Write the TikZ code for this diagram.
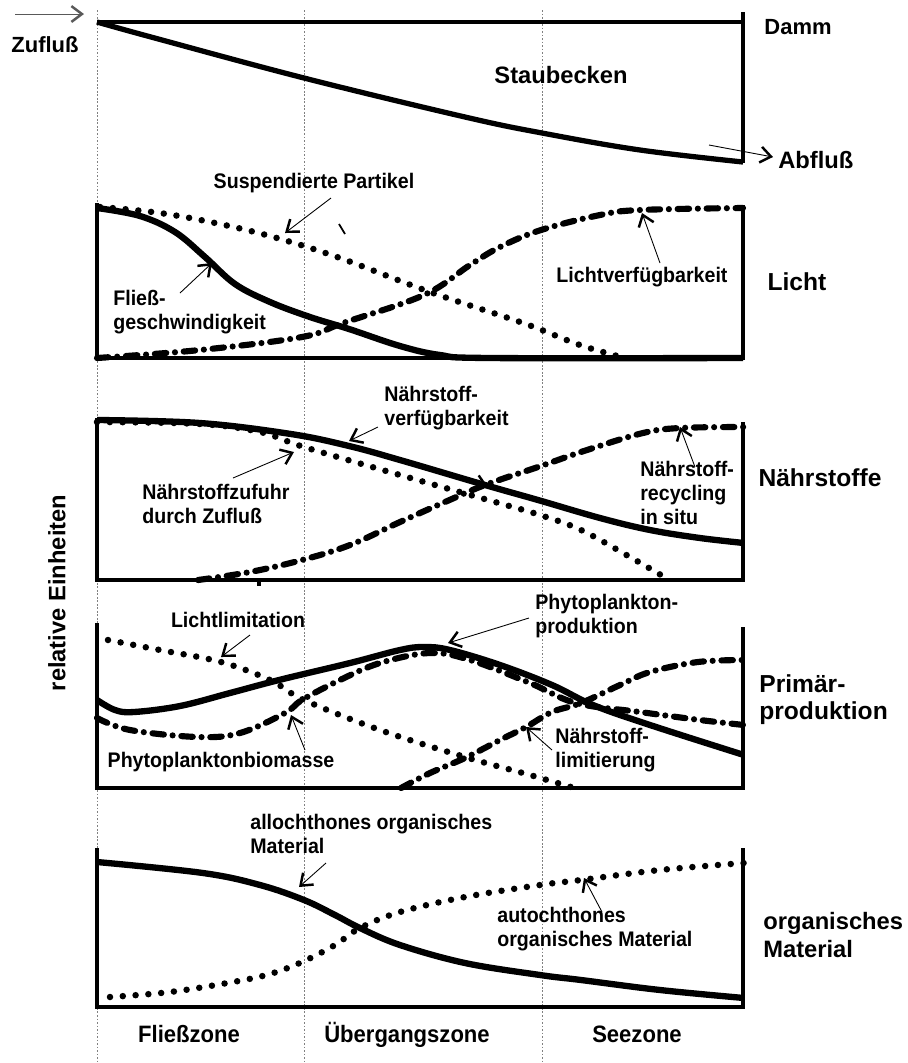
\documentclass[tikz,border=0pt]{standalone}
\usepackage{fontspec}
\setmainfont{Liberation Sans}
\newfontfamily\narrowsans[FakeStretch=0.93]{Liberation Sans}
\usetikzlibrary{arrows.meta}
\tikzset{
  lbl/.style={font=\narrowsans\bfseries\fontsize{12}{13.5}\selectfont, align=left, inner sep=0pt},
  big/.style={font=\bfseries\fontsize{14}{15.5}\selectfont, align=left, inner sep=0pt},
  zonelbl/.style={font=\narrowsans\bfseries\fontsize{13.5}{15}\selectfont, inner sep=0pt, anchor=base},
  axis/.style={line width=1.8pt},
  solidc/.style={line width=3.6pt},
  dotc/.style={line width=3.7pt, line cap=round, dash pattern=on 0pt off 7.3pt},
  dashdotc/.style={line width=3.5pt, line cap=round, dash pattern=on 6.5pt off 5pt on 0pt off 5pt},
  zone/.style={line width=0.4pt, gray, dash pattern=on 1pt off 1pt},
  ptr/.style={line width=0.5pt, -{Straight Barb[length=6pt,width=9pt,line width=1.4pt]}}
}
\begin{document}
\begin{tikzpicture}[x=0.02cm, y=-0.02cm]
        \useasboundingbox (0,0) rectangle (908,1063);
        % zones
        \path[draw,zone] (97,10) -- (97,1063);
        \path[draw,zone] (304,10) -- (304,1063);
        \path[draw,zone] (542,10) -- (542,1063);

        % Staubecken
        \path[draw,line width=2.6pt] (97,22) -- (743,22);
        \path[draw,line width=2.4pt] (743,12) -- (743,163);
        \path[draw,solidc,line width=3pt] plot[smooth,tension=0.6] coordinates {(97,22) (151,37) (304,78) (465,117) (542,133) (640,150) (743,162)};
        \node[lbl,font=\bfseries\fontsize{12.5}{14}\selectfont] (zu) at (45,45) {Zufluß};
        \node[lbl,font=\bfseries\fontsize{12.5}{14}\selectfont] (damm) at (798,27) {Damm};
        \node[lbl,font=\bfseries\fontsize{13.5}{15}\selectfont] (becken) at (561,75) {Staubecken};
        \node[lbl,font=\bfseries\fontsize{13.5}{15}\selectfont,anchor=west] (ab) at (778,160) {Abfluß};
        \coordinate (zu1) at (15,14);
        \coordinate (zu2) at (84,14);
        \coordinate (ab1) at (709,145);
        \coordinate (ab2) at (773,157);
        \path[draw,ptr,gray!70!black] (zu1) -- (zu2);
        \path[draw,ptr] (ab1) -- (ab2);

        % Licht
        \path[draw,axis] (97,203) -- (97,358) -- (743,358) -- (743,205);
        \path[draw,solidc] plot[smooth,tension=0.6] coordinates {(97,208) (140,216) (175,232) (205,257) (235,284) (270,302) (310,317) (349,329) (400,346) (440,355) (490,358) (743,358)};
        \path[draw,dotc] plot[smooth,tension=0.6] coordinates {(100,207) (160,213) (220,224) (277,238) (340,258) (430,292) (523,323) (580,345) (625,358)};
        \path[draw,dashdotc] plot[smooth,tension=0.6] coordinates {(97,358) (200,350) (302,337) (343,323) (424,295) (470,265) (500,247) (541,230) (600,215) (640,210) (743,208)};
        \path[draw,line width=1pt] (339,224) -- (345,234);
        \node[lbl] (susp) at (314,183) {Suspendierte Partikel};
        \node[lbl,anchor=west] (fliess) at (113,312) {Fließ-\\geschwindigkeit};
        \node[lbl] (lv) at (642,277) {Lichtverfügbarkeit};
        \node[big] (licht) at (797,282) {Licht};
        \coordinate (s1) at (331,198);
        \coordinate (s2) at (285,233);
        \coordinate (f1) at (180,293);
        \coordinate (f2) at (212,263);
        \coordinate (l1) at (660,263);
        \coordinate (l2) at (642,213);
        \path[draw,ptr] (s1) -- (s2);
        \path[draw,ptr] (f1) -- (f2);
        \path[draw,ptr] (l1) -- (l2);

        % Naehrstoffe
        \path[draw,axis] (97,418) -- (97,580) -- (743,580) -- (743,422);
        \path[draw,axis] (259,580) -- (259,586);
        \path[draw,solidc] plot[smooth,tension=0.6] coordinates {(97,420) (200,423) (291,434) (349,446) (400,460) (485,485) (538,500) (600,518) (650,530) (700,538) (744,543)};
        \path[draw,dotc] plot[smooth,tension=0.6] coordinates {(97,422) (200,424) (260,432) (304,447) (400,475) (488,500) (540,515) (581,530) (630,557) (666,578)};
        \path[draw,dashdotc] plot[smooth,tension=0.6] coordinates {(198,580) (250,572) (302,560) (350,545) (400,522) (445,502) (485,485) (538,467) (587,450) (643,433) (680,428) (744,427)};
        \node[lbl,anchor=west] (nv) at (384,408) {Nährstoff-\\verfügbarkeit};
        \node[lbl,anchor=west] (nz) at (142,504) {Nährstoffzufuhr\\durch Zufluß};
        \node[lbl,anchor=west] (nr) at (640,493) {Nährstoff-\\recycling\\in situ};
        \node[big] (naehr) at (820,478) {Nährstoffe};
        \node[big,rotate=90,font=\bfseries\fontsize{13.5}{15}\selectfont] (rel) at (57,593) {relative Einheiten};
        \coordinate (nv1) at (378,427);
        \coordinate (nv2) at (349,441);
        \coordinate (nz1) at (233,478);
        \coordinate (nz2) at (294,452);
        \coordinate (nr1) at (695,467);
        \coordinate (nr2) at (680,427);
        \coordinate (x1) at (462,478);
        \coordinate (x2) at (488,487);
        \path[draw,ptr] (nv1) -- (nv2);
        \path[draw,ptr] (nz1) -- (nz2);
        \path[draw,ptr] (nr1) -- (nr2);
        \path[draw,ptr] (x1) -- (x2);

        % Primaerproduktion
        \path[draw,axis] (97,623) -- (97,788) -- (743,788) -- (743,627);
        \path[draw,dotc] plot[smooth,tension=0.6] coordinates {(108,640) (160,650) (221,662) (270,680) (304,700) (380,730) (465,757) (530,775) (581,790)};
        \path[draw,solidc] plot[smooth,tension=0.6] coordinates {(97,700) (115,710) (134,712) (180,706) (230,693) (279,680) (350,663) (400,650) (424,647) (450,650) (500,665) (552,685) (593,705) (650,725) (744,755)};
        \path[draw,dashdotc] plot[smooth,tension=0.6] coordinates {(97,718) (130,730) (198,737) (240,733) (285,713) (302,700) (340,680) (380,663) (430,653) (470,660) (530,683) (576,703) (640,712) (700,720) (744,725)};
        \path[draw,dashdotc] plot[smooth,tension=0.6] coordinates {(401,788) (430,773) (465,758) (500,740) (526,727) (552,712) (581,703) (620,685) (650,672) (698,662) (744,660)};
        \node[lbl] (ll) at (238,620) {Lichtlimitation};
        \node[lbl,anchor=west] (pp) at (535,616) {Phytoplankton-\\produktion};
        \node[lbl] (pb) at (221,762) {Phytoplanktonbiomasse};
        \node[lbl,anchor=west] (nl) at (555,750) {Nährstoff-\\limitierung};
        \node[big,anchor=west] (prim) at (759,700) {Primär-\\produktion};
        \coordinate (ll1) at (250,635);
        \coordinate (ll2) at (221,657);
        \coordinate (pp1) at (529,618);
        \coordinate (pp2) at (448,643);
        \coordinate (pb1) at (305,750);
        \coordinate (pb2) at (291,715);
        \coordinate (nl1) at (552,750);
        \coordinate (nl2) at (526,727);
        \path[draw,ptr] (ll1) -- (ll2);
        \path[draw,ptr] (pp1) -- (pp2);
        \path[draw,ptr] (pb1) -- (pb2);
        \path[draw,ptr] (nl1) -- (nl2);

        % organisches Material
        \path[draw,axis] (97,848) -- (97,1007) -- (743,1007) -- (743,848);
        \path[draw,solidc] plot[smooth,tension=0.6] coordinates {(97,862) (203,873) (260,885) (304,900) (335,915) (360,928) (400,945) (465,963) (540,975) (581,980) (660,990) (744,998)};
        \path[draw,dotc] plot[smooth,tension=0.6] coordinates {(110,997) (170,992) (233,982) (270,974) (302,962) (335,945) (360,928) (400,912) (465,897) (540,885) (581,880) (660,870) (744,863)};
        \node[lbl,anchor=west] (allo) at (250,834) {allochthones organisches\\Material};
        \node[lbl,anchor=west] (auto) at (497,929) {autochthones\\organisches Material};
        \node[big,anchor=west,font=\bfseries\fontsize{13.5}{15.5}\selectfont] (org) at (763,935) {organisches\\Material};
        \coordinate (al1) at (326,863);
        \coordinate (al2) at (299,887);
        \coordinate (au1) at (602,912);
        \coordinate (au2) at (584,878);
        \path[draw,ptr] (al1) -- (al2);
        \path[draw,ptr] (au1) -- (au2);

        % Zonen
        \node[zonelbl] (z1) at (189,1042) {Fließzone};
        \node[zonelbl] (z2) at (407,1042) {Übergangszone};
        \node[zonelbl] (z3) at (637,1042) {Seezone};
    \end{tikzpicture}
\end{document}
